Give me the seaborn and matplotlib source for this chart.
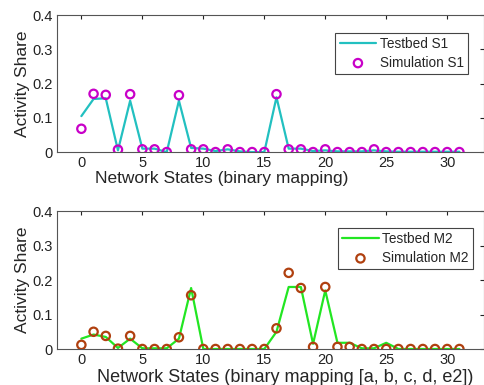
import numpy as np
import pandas as pd
import matplotlib
matplotlib.use("Agg")
import matplotlib.pyplot as plt
import seaborn as sns

# states 0..31
states = list(range(32))

testbed_s1 = [0.105, 0.155, 0.157, 0.005, 0.150, 0.010, 0.010, 0.000, 0.150, 0.012,
              0.010, 0.003, 0.008, 0.002, 0.000, 0.000, 0.160, 0.010, 0.010, 0.003,
              0.005, 0.002, 0.002, 0.002, 0.005, 0.002, 0.001, 0.001, 0.001, 0.001,
              0.001, 0.001]
sim_s1 = [0.068, 0.170, 0.167, 0.007, 0.169, 0.008, 0.008, 0.000, 0.166, 0.008,
          0.008, 0.000, 0.008, 0.000, 0.000, 0.000, 0.169, 0.008, 0.008, 0.000,
          0.008, 0.000, 0.000, 0.000, 0.008, 0.000, 0.000, 0.000, 0.000, 0.000,
          0.000, 0.000]

testbed_m2 = [0.030, 0.042, 0.035, 0.003, 0.030, 0.002, 0.002, 0.002, 0.030, 0.177,
              0.000, 0.000, 0.000, 0.000, 0.000, 0.000, 0.050, 0.180, 0.180, 0.015,
              0.170, 0.018, 0.018, 0.002, 0.002, 0.018, 0.000, 0.000, 0.000, 0.000,
              0.000, 0.000]
sim_m2 = [0.012, 0.050, 0.038, 0.001, 0.038, 0.000, 0.000, 0.000, 0.034, 0.156,
          0.000, 0.000, 0.000, 0.000, 0.000, 0.000, 0.060, 0.221, 0.177, 0.006,
          0.180, 0.006, 0.006, 0.000, 0.000, 0.000, 0.000, 0.000, 0.000, 0.000,
          0.000, 0.000]

sns.set_style("white")
plt.rcParams['font.family'] = ['Liberation Sans', 'DejaVu Sans']

fig = plt.figure(figsize=(4.85, 3.85), dpi=100)
ax1 = fig.add_axes([0.1175, 0.605, 0.88, 0.356])
ax2 = fig.add_axes([0.1175, 0.0935, 0.88, 0.358])

# ax, testbed, sim, line colour, marker colour, labels, xlabel, label pos, label size, legend anchor
panels = [
    (ax1, testbed_s1, sim_s1, "#22c0c0", "#c800c8", "Testbed S1", "Simulation S1",
     "Network States (binary mapping)", (0.385, -0.14), 12.5, (0.9625, 0.87)),
    (ax2, testbed_m2, sim_m2, "#22e622", "#b0400f", "Testbed M2", "Simulation M2",
     "Network States (binary mapping [a, b, c, d, e2])", (0.534, -0.145), 13, (0.974, 0.877)),
]

for ax, tb, sim, lc, mc, lab_t, lab_s, xlabel, lpos, lsize, anchor in panels:
    df = pd.DataFrame({"state": states, "testbed": tb, "sim": sim})
    sns.lineplot(data=df, x="state", y="testbed", ax=ax, color=lc, lw=1.6, label=lab_t)
    sns.scatterplot(data=df, x="state", y="sim", ax=ax, marker="o", s=36,
                    facecolor="none", edgecolor=mc, linewidth=1.6, label=lab_s, zorder=3)
    ax.set_xlim(-2, 33)
    ax.set_ylim(0, 0.4)
    ax.set_xticks([0, 5, 10, 15, 20, 25, 30])
    ax.set_yticks([0, 0.1, 0.2, 0.3, 0.4])
    ax.set_yticklabels(["0", "0.1", "0.2", "0.3", "0.4"])
    ax.tick_params(direction="in", length=3, top=True, right=True, labelsize=10.5,
                   colors="#222222", pad=3)
    for sp in ax.spines.values():
        sp.set_color("#555555")
        sp.set_linewidth(0.8)
    ax.set_xlabel(xlabel, fontsize=lsize)
    ax.xaxis.set_label_coords(lpos[0], lpos[1], transform=ax.transAxes)
    ax.xaxis.label.set_va("top")
    ax.set_ylabel("Activity Share", fontsize=12.5, labelpad=2)
    leg = ax.legend(loc="upper right", bbox_to_anchor=anchor, fontsize=9.8,
                    frameon=True, fancybox=False, framealpha=1, borderpad=0.3,
                    handlelength=2.7, handletextpad=0.25, labelspacing=0.35,
                    borderaxespad=0)
    leg.get_frame().set_edgecolor("#444444")
    leg.get_frame().set_linewidth(0.8)

fig.savefig("out.png", dpi=100)
